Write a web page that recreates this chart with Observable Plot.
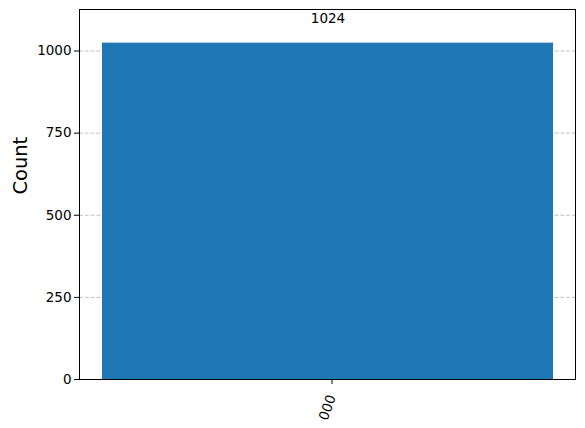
<!DOCTYPE html>
<html>
<head>
<meta charset="utf-8">
<script src="https://cdn.jsdelivr.net/npm/d3@7"></script>
<script src="https://cdn.jsdelivr.net/npm/@observablehq/plot@0.6"></script>
<style>
body { margin: 0; background: #fff; }
svg { font-family: "DejaVu Sans", sans-serif; }
</style>
</head>
<body>
<div id="chart"></div>
<script>
const states = ["000"];
const counts = [1024];
const yTicks = [0, 250, 500, 750, 1000];

const data = states.map((s, i) => ({state: s, count: counts[i]}));

const chart = Plot.plot({
  width: 585,
  height: 428,
  marginLeft: 79,
  marginRight: 10,
  marginTop: 9,
  marginBottom: 49,
  style: {fontFamily: "DejaVu Sans, sans-serif", fontSize: "13.5px", color: "#000", background: "#fff"},
  x: {domain: states, paddingInner: 0, paddingOuter: 0.049, label: null},
  y: {domain: [0, 1126.4], label: null},
  marks: [
    Plot.gridY(yTicks, {stroke: "#b0b0b0", strokeOpacity: 1, strokeDasharray: "4,1.8", strokeWidth: 0.8}),
    Plot.barY(data, {x: "state", y: "count", fill: "#1f77b4", inset: 0}),
    Plot.text(data, {x: "state", y: "count", text: d => String(d.count), dy: -24, fontSize: 13.5, fill: "#000"}),
    Plot.axisY(yTicks, {tickSize: 5, tickPadding: 3, fontSize: 13.5, label: null, stroke: "#000", tickFormat: d3.format("d")}),
    Plot.axisX({tickSize: 5, tickRotate: -70, tickPadding: 11, fontSize: 13.5, label: null, stroke: "#000", dx: 4}),
    Plot.text(["Count"], {frameAnchor: "left", dx: -59, rotate: -90, fontSize: 19.4, fill: "#000"}),
    Plot.frame({stroke: "#000", strokeWidth: 1})
  ]
});
document.getElementById("chart").appendChild(chart);
</script>
</body>
</html>
